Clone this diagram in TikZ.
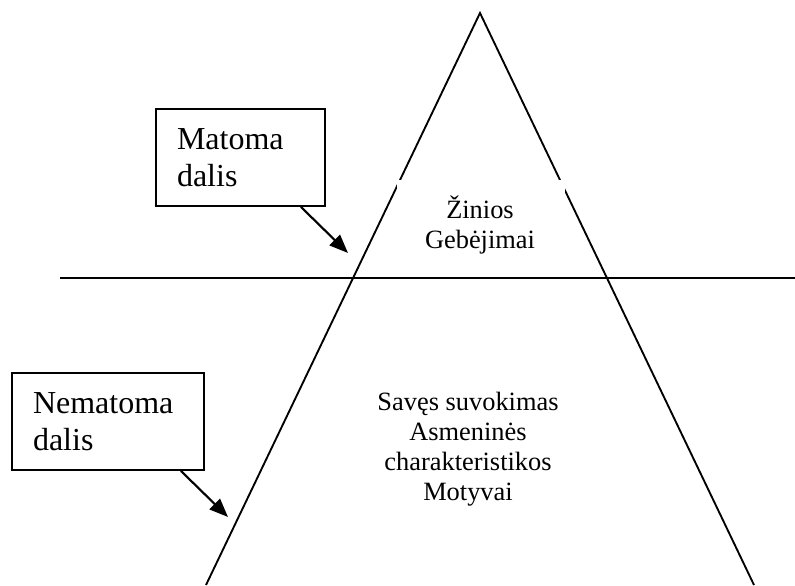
\documentclass[tikz,border=0pt]{standalone}
\usepackage{fontspec}
\setmainfont{Liberation Serif}
\usetikzlibrary{arrows.meta}
\begin{document}
\begin{tikzpicture}[x=0.75pt,y=-0.75pt,
  line/.style={line width=1.4pt},
  labelbox/.style={draw,line width=1.4pt,align=left,inner xsep=15.75pt,
    font=\fontsize{24}{28}\selectfont},
  inner/.style={align=center,font=\fontsize{19.8}{22.5}\selectfont},
  pointer/.style={line width=1.6pt,-{Triangle[length=14pt,width=11pt]}}]
\useasboundingbox (0,0) rectangle (795,585);
\coordinate (apex) at (480,13);
\coordinate (bl) at (206,585);
\coordinate (br) at (754,585);
\coordinate (hl) at (60,278);
\coordinate (hr) at (795,278);
\draw[line] (bl) -- (apex) -- (br);
\draw[line] (hl) -- (hr);
\node[fill=white,minimum width=126pt,minimum height=73pt,inner sep=0pt] (mask) at (481,229) {};
\draw[line width=0.8pt] (mask.south west) -- (mask.south east);
\node[inner] (top) at (480,225) {Žinios\\Gebėjimai};
\node[inner] (bottom) at (468,449) {Savęs suvokimas\\Asmeninės\\charakteristikos\\Motyvai};
\node[labelbox,minimum width=126.75pt,minimum height=72.75pt,text width=95.25pt] (vis) at (240.5,157.5) {Matoma\\dalis};
\node[labelbox,minimum width=144pt,minimum height=72.75pt,text width=112.5pt] (invis) at (108,421.5) {Nematoma\\dalis};
\coordinate (visend) at (348,253);
\coordinate (invisend) at (228,517);
\path (vis.south east) ++(-25,0) coordinate (visstart);
\draw[pointer] (visstart) -- (visend);
\path (invis.south east) ++(-24,0) coordinate (invisstart);
\draw[pointer] (invisstart) -- (invisend);
\end{tikzpicture}
\end{document}
